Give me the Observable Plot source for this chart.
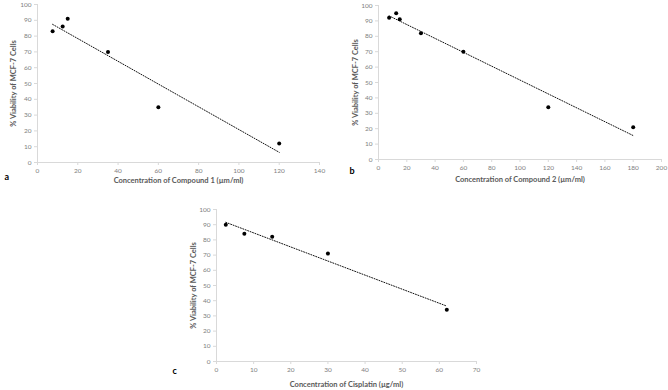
<!DOCTYPE html>
<html>
<head>
<meta charset="utf-8">
<script src="https://cdn.jsdelivr.net/npm/d3@7"></script>
<script src="https://cdn.jsdelivr.net/npm/@observablehq/plot@0.6"></script>
<style>
  html, body { margin: 0; padding: 0; background: #fff; }
  #wrap { position: relative; width: 668px; height: 390px; overflow: hidden; background: #fff; }
  .panel { position: absolute; }
</style>
</head>
<body>
<div id="wrap"></div>
<script>
// ---- data ----
const concA = [7.5, 12.5, 15, 35, 60, 120];
const viabA = [83, 86, 91, 70, 35, 12];
const concB = [7.5, 12.5, 15, 30, 60, 120, 180];
const viabB = [92, 95, 91, 82, 70, 34, 21];
const concC = [2.5, 7.5, 15, 30, 62];
const viabC = [90, 84, 82, 71, 34];

const yTitle = "% Viability of MCF-7 Cells";
const xTitleA = "Concentration of Compound 1 (µm/ml)";
const xTitleB = "Concentration of Compound 2 (µm/ml)";
const xTitleC = "Concentration of Cisplatin (µg/ml)";
const yTickValues = d3.range(0, 101, 10);
const xTicksA = d3.range(0, 141, 20);
const xTicksB = d3.range(0, 201, 20);
const xTicksC = d3.range(0, 71, 10);

const FONT = "Lato, 'Open Sans', sans-serif";
const AXIS = "#d9d9d9";
const TICKTXT = "#808080";
const TITLE = "#595959";

function panel(cfg) {
  const data = cfg.xs.map((x, i) => ({x, y: cfg.ys[i]}));
  const svg = Plot.plot({
    width: cfg.width,
    height: cfg.height,
    marginLeft: cfg.ml, marginRight: cfg.mr, marginTop: cfg.mt, marginBottom: cfg.mb,
    style: {fontFamily: FONT, background: "white", overflow: "visible"},
    x: {domain: cfg.xDomain},
    y: {domain: [0, 100]},
    marks: [
      Plot.axisX({ticks: cfg.xTicks, tickSize: 3, tickPadding: 3, stroke: AXIS, fill: TICKTXT, fontSize: 6.5, label: null}),
      Plot.axisY({ticks: yTickValues, tickSize: 3, tickPadding: 3, stroke: AXIS, fill: TICKTXT, fontSize: 6.5, label: null}),
      Plot.ruleY([0], {stroke: AXIS}),
      Plot.ruleX([cfg.xDomain[0]], {stroke: AXIS}),
      Plot.linearRegressionY(data, {x: "x", y: "y", ci: 0, stroke: "#111", strokeWidth: 1, strokeDasharray: "1,1.6"}),
      Plot.dot(data, {x: "x", y: "y", r: 2, fill: "black", stroke: "none"}),
      Plot.text([cfg.xTitle], {frameAnchor: "bottom", dy: cfg.xTitleDy, text: d => d, fontWeight: "bold", fontSize: 7.5, fill: TITLE}),
      Plot.text([yTitle], {frameAnchor: "left", textAnchor: "middle", dx: cfg.yTitleDx, rotate: -90, text: d => d, fontWeight: "bold", fontSize: 7.5, fill: TITLE}),
      Plot.text([cfg.letter], {frameAnchor: "bottom-left", dx: cfg.letterDx, dy: cfg.letterDy, text: d => d, fontWeight: "bold", fontSize: 9, fill: "black"})
    ]
  });
  svg.classList.add("panel");
  svg.style.left = cfg.left + "px";
  svg.style.top = cfg.top + "px";
  document.getElementById("wrap").appendChild(svg);
}

panel({xs: concA, ys: viabA, xDomain: [0, 140], xTicks: xTicksA, xTitle: xTitleA, letter: "a",
  left: 0, top: 0, width: 330, height: 195, ml: 37, mr: 11, mt: 4, mb: 33,
  xTitleDy: 20, yTitleDx: -24, letterDx: -33, letterDy: 17});
panel({xs: concB, ys: viabB, xDomain: [0, 200], xTicks: xTicksB, xTitle: xTitleB, letter: "b",
  left: 330, top: 0, width: 338, height: 195, ml: 48, mr: 7, mt: 5, mb: 36,
  xTitleDy: 22, yTitleDx: -23, letterDx: -29, letterDy: 14});
panel({xs: concC, ys: viabC, xDomain: [0, 70], xTicks: xTicksC, xTitle: xTitleC, letter: "c",
  left: 150, top: 195, width: 340, height: 195, ml: 66, mr: 14, mt: 14, mb: 29,
  xTitleDy: 25, yTitleDx: -23, letterDx: -44, letterDy: 12});
</script>
</body>
</html>
